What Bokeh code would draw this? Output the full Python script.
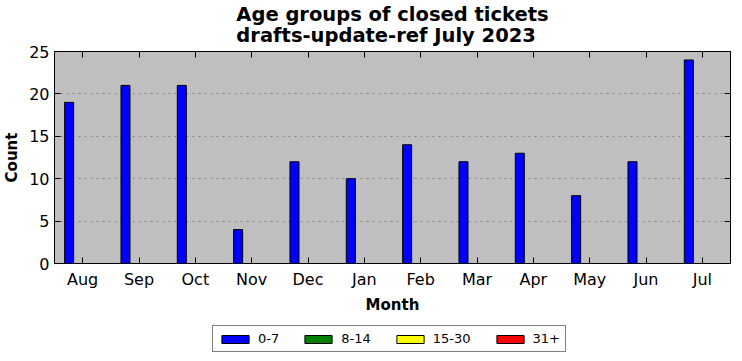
from bokeh.plotting import figure
from bokeh.layouts import column
from bokeh.models import (ColumnDataSource, Range1d, FixedTicker, LinearAxis, Legend,
                          LegendItem, Title, SingleIntervalTicker, CustomLabelingPolicy)
from bokeh.embed import file_html
from bokeh.resources import INLINE

months = ["Aug", "Sep", "Oct", "Nov", "Dec", "Jan", "Feb", "Mar", "Apr", "May", "Jun", "Jul"]
age_0_7 = [19, 21, 21, 4, 12, 10, 14, 12, 13, 8, 12, 24]
age_8_14 = [0] * 12
age_15_30 = [0] * 12
age_31p = [0] * 12
series_names = ["0-7", "8-14", "15-30", "31+"]
series_values = [age_0_7, age_8_14, age_15_30, age_31p]
series_colors = ["#0000ff", "#008000", "#ffff00", "#ff0000"]
title_lines = ["Age groups of closed tickets", "drafts-update-ref July 2023"]

FONT = "DejaVu Sans"
w = 0.16

p = figure(frame_width=676, frame_height=212, output_backend="svg", toolbar_location=None,
           x_range=Range1d(-0.5, 11.5), y_range=Range1d(0, 25),
           min_border_left=50, min_border_right=8, min_border_top=45, min_border_bottom=0)
p.title = None
p.border_fill_color = "white"
p.background_fill_color = "#bfbfbf"
p.outline_line_color = "black"
p.outline_line_width = 1

for k, (name, vals, col) in enumerate(zip(series_names, series_values, series_colors)):
    src = ColumnDataSource(dict(x=[i + (k - 1.5) * w for i in range(len(months))], top=vals))
    p.vbar(x="x", top="top", width=w, bottom=0, source=src, fill_color=col,
           line_color="black", line_width=1)

# axes
xa = p.xaxis[0]
xa.ticker = FixedTicker(ticks=list(range(12)))
xa.major_label_overrides = {i: m for i, m in enumerate(months)}
ya = p.yaxis[0]
ya.ticker = SingleIntervalTicker(interval=5)
for ax in (xa, ya):
    ax.major_tick_in = 6
    ax.major_tick_out = 0
    ax.minor_tick_in = 0
    ax.minor_tick_out = 0
    ax.axis_line_color = "black"
    ax.major_tick_line_color = "black"
    ax.major_label_text_font = FONT
    ax.major_label_text_font_size = "16px"
    ax.major_label_text_color = "black"
    ax.axis_label_text_font = FONT
    ax.axis_label_text_font_size = "15px"
    ax.axis_label_text_font_style = "bold"
    ax.axis_label_text_color = "black"
xa.axis_label = "Month"
ya.axis_label = "Count"
xa.major_label_standoff = 6
ya.major_label_standoff = 5
xa.axis_label_standoff = 4
ya.axis_label_standoff = 5

top_ax = LinearAxis(ticker=FixedTicker(ticks=list(range(12))),
                    major_label_policy=CustomLabelingPolicy(code="return new Set()"))
right_ax = LinearAxis(ticker=SingleIntervalTicker(interval=5),
                      major_label_policy=CustomLabelingPolicy(code="return new Set()"))
for ax in (top_ax, right_ax):
    ax.major_tick_in = 6
    ax.major_tick_out = 0
    ax.minor_tick_in = 0
    ax.minor_tick_out = 0
    ax.major_label_text_font_size = "1px"
    ax.major_label_standoff = 0
    ax.axis_label_standoff = 0
    ax.axis_line_color = "black"
p.add_layout(top_ax, "above")
p.add_layout(right_ax, "right")

p.xgrid.grid_line_color = None
p.ygrid.grid_line_color = "#888888"
p.ygrid.grid_line_dash = "2 4"
p.ygrid.grid_line_width = 1

# title (two lines)
t = Title(text="\n".join(title_lines), align="center", text_font=FONT,
          text_font_size="19.5px", text_font_style="bold", text_color="black",
          text_line_height=0.95, standoff=0)
p.add_layout(t, "above")

# legend strip below the chart (its legend renderers sit outside the strip's view)
lf = figure(frame_width=676, frame_height=44, output_backend="svg", toolbar_location=None,
            x_axis_type=None, y_axis_type=None,
            x_range=Range1d(100, 101), y_range=Range1d(100, 101),
            min_border_left=50, min_border_right=8, min_border_top=0, min_border_bottom=0)
lf.title = None
lf.outline_line_color = None
lf.background_fill_color = "white"
lf.border_fill_color = "white"
lf.xgrid.grid_line_color = None
lf.ygrid.grid_line_color = None
items = []
for name, vals, col in zip(series_names, series_values, series_colors):
    r = lf.vbar(x="x", top="top", width=w, bottom=0,
                source=ColumnDataSource(dict(x=list(range(len(vals))), top=vals)),
                fill_color=col, line_color="black", line_width=1)
    items.append(LegendItem(label=name, renderers=[r], index=0))

legend = Legend(items=items, orientation="horizontal", location=(158, 8),
                glyph_width=34, glyph_height=10, label_standoff=6, spacing=22,
                label_text_font=FONT, label_text_font_size="13px",
                label_text_color="black", border_line_color="black",
                border_line_width=1, background_fill_color="white",
                padding=5, margin=0, label_height=10)
lf.add_layout(legend, "center")

open("out.html", "w").write(file_html(column(p, lf, spacing=0), INLINE))
